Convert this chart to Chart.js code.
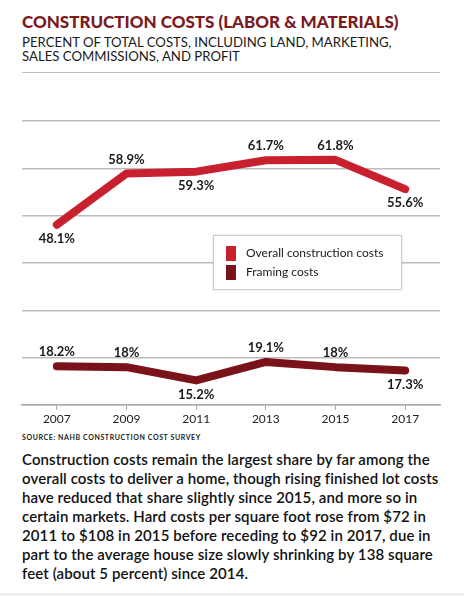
<!DOCTYPE html>
<html>
<head>
<meta charset="utf-8">
<script src="https://cdn.jsdelivr.net/npm/chart.js"></script>
<style>
  body { margin: 0; background: #fff; font-family: Lato, sans-serif; }
  #page { position: relative; width: 464px; height: 596px; overflow: hidden; }
  #title { position: absolute; left: 22px; top: 11px; font-size: 17px; font-weight: 900; color: #7b1a1e; white-space: nowrap; }
  #subtitle { position: absolute; left: 22px; top: 35px; font-size: 13.2px; line-height: 14px; color: #1a1a1a; white-space: nowrap; }
  #rule { position: absolute; left: 22px; top: 72px; width: 418px; height: 1px; background: #bbb; }
  #chartBox { position: absolute; left: 0; top: 80px; width: 464px; height: 350px; }
  #legend { position: absolute; left: 213px; top: 235px; width: 187px; height: 53px; border: 1px solid #ccc; background: #fff; box-shadow: 0 0 2px rgba(0,0,0,0.15); }
  .item { position: absolute; left: 12px; font-size: 12px; color: #1a1a1a; white-space: nowrap; }
  .item span { display: inline-block; width: 10px; height: 15px; vertical-align: middle; margin-right: 10px; }
  #source { position: absolute; left: 22px; top: 433px; font-size: 7px; font-weight: 700; letter-spacing: 0.6px; color: #222; }
  #text { position: absolute; left: 22px; top: 450px; font-size: 15px; letter-spacing: 0.1px; line-height: 19px; font-weight: 600; color: #111; white-space: nowrap; }
  #bottom { position: absolute; left: 0; top: 593px; width: 464px; height: 3px; background: #eee; }
</style>
</head>
<body>
<div id="page">
  <div id="title">CONSTRUCTION COSTS (LABOR &amp; MATERIALS)</div>
  <div id="subtitle">PERCENT OF TOTAL COSTS, INCLUDING LAND, MARKETING,<br>SALES COMMISSIONS, AND PROFIT</div>
  <div id="rule"></div>
  <div id="chartBox"><canvas id="myChart"></canvas></div>
  <div id="legend"></div>
  <div id="source">SOURCE: NAHB CONSTRUCTION COST SURVEY</div>
  <div id="text">Construction costs remain the largest share by far among the<br>overall costs to deliver a home, though rising finished lot costs<br>have reduced that share slightly since 2015, and more so in<br>certain markets. Hard costs per square foot rose from $72 in<br>2011 to $108 in 2015 before receding to $92 in 2017, due in<br>part to the average house size slowly shrinking by 138 square<br>feet (about 5 percent) since 2014.</div>
  <div id="bottom"></div>
</div>
<script>
const years = ["2007", "2009", "2011", "2013", "2015", "2017"];
const overallCosts = [48.1, 58.9, 59.3, 61.7, 61.8, 55.6];
const framingCosts = [18.2, 18, 15.2, 19.1, 18, 17.3];

// donde va cada etiqueta: arriba (-1) o abajo (1) del punto
const overallLabelSide = [1, -1, 1, -1, -1, 1];
const framingLabelSide = [-1, -1, 1, -1, -1, 1];

const overallColor = "#c8202f";
const framingColor = "#7a1319";

const labelPlugin = {
  id: "pointLabels",
  afterDatasetsDraw(chart) {
    const ctx = chart.ctx;
    ctx.save();
    ctx.font = "bold 13px Lato";
    ctx.fillStyle = "#1a1a1a";
    ctx.textAlign = "center";
    ctx.textBaseline = "middle";
    chart.data.datasets.forEach((ds, i) => {
      const meta = chart.getDatasetMeta(i);
      meta.data.forEach((pt, j) => {
        ctx.fillText(ds.data[j] + "%", pt.x, pt.y + ds.labelSide[j] * 14);
      });
    });
    ctx.restore();
  },
};

function createChartConfig() {
  return {
    type: "line",
    data: {
      labels: years,
      datasets: [
        {
          label: "Overall construction costs",
          data: overallCosts,
          borderColor: overallColor,
          backgroundColor: overallColor,
          borderWidth: 8,
          borderCapStyle: "round",
          borderJoinStyle: "round",
          pointRadius: 0,
          labelSide: overallLabelSide,
        },
        {
          label: "Framing costs",
          data: framingCosts,
          borderColor: framingColor,
          backgroundColor: framingColor,
          borderWidth: 8,
          borderCapStyle: "round",
          borderJoinStyle: "round",
          pointRadius: 0,
          labelSide: framingLabelSide,
        },
      ],
    },
    options: {
      responsive: false,
      animation: false,
      layout: { padding: { left: 22, right: 24, top: 41, bottom: 0 } },
      plugins: { legend: { display: false }, tooltip: { enabled: false } },
      scales: {
        x: {
          offset: true,
          grid: { drawOnChartArea: false, tickLength: 5, color: "#aaa" },
          border: { color: "#aaa", width: 1.5 },
          ticks: { color: "#222", font: { family: "Lato", size: 12 }, padding: 2 },
          afterFit: (axis) => { axis.height = 25; },
        },
        y: {
          min: 10,
          max: 70,
          ticks: { display: false, stepSize: 10 },
          grid: { color: "#bbb", lineWidth: 1.5, drawTicks: false },
          border: { display: false },
          afterFit: (axis) => { axis.width = 0; },
        },
      },
    },
    plugins: [labelPlugin],
  };
}

const canvas = document.getElementById("myChart");
canvas.width = 464;
canvas.height = 350;
const myChart = new Chart(canvas, createChartConfig());

// leyenda en HTML dentro del area del grafico
const legend = document.getElementById("legend");
myChart.data.datasets.forEach((ds, i) => {
  const item = document.createElement("div");
  item.className = "item";
  item.style.top = (i === 0 ? 9 : 28) + "px";
  item.innerHTML = `<span style="background:${ds.borderColor}"></span>${ds.label}`;
  legend.appendChild(item);
});
</script>
</body>
</html>
